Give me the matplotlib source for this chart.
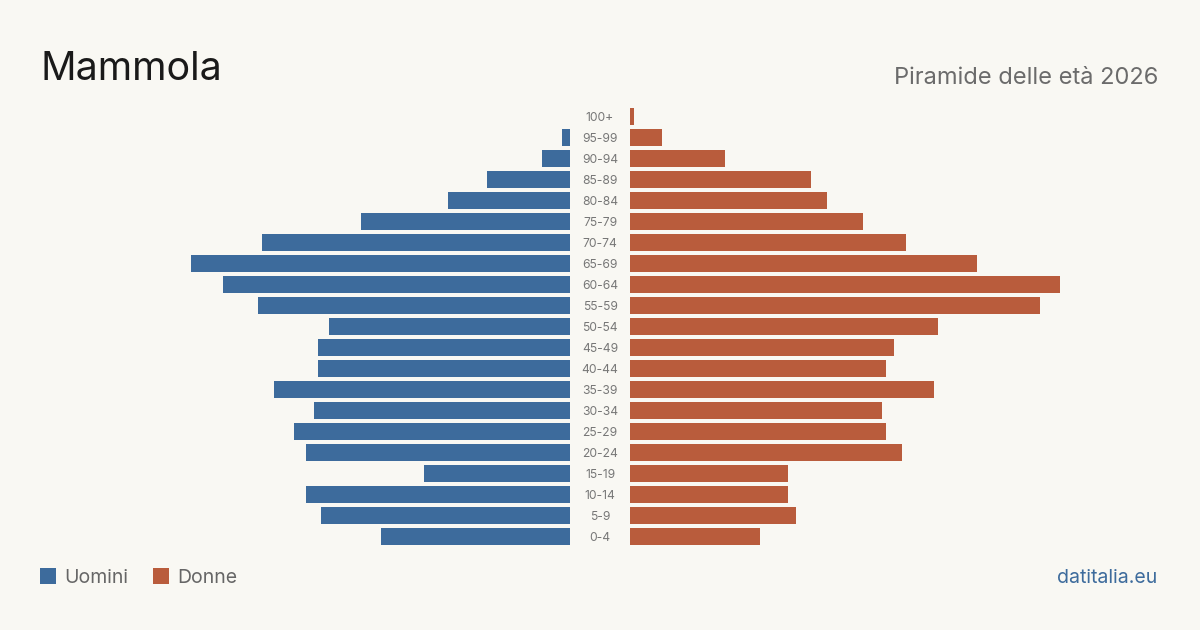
import matplotlib
matplotlib.use('Agg')
import matplotlib.pyplot as plt
from matplotlib.patches import Rectangle

# Data (top row first)
age_groups = ['100+', '95-99', '90-94', '85-89', '80-84', '75-79', '70-74', '65-69', '60-64', '55-59',
              '50-54', '45-49', '40-44', '35-39', '30-34', '25-29', '20-24', '15-19', '10-14', '5-9', '0-4']
men = [0, 2, 7, 20.75, 30.5, 52.25, 77, 94.75, 86.75, 78, 60.25, 63, 63, 74, 64, 69, 66, 36.5, 66, 62.25, 47.25]
women = [1, 8, 23.75, 45.25, 49.25, 58.25, 69, 86.75, 107.5, 102.5, 77, 66, 64, 76, 63, 64, 68, 39.5, 39.5, 41.5, 32.5]

title = 'Mammola'
subtitle = 'Piramide delle età 2026'
source = 'datitalia.eu'
legend_labels = ['Uomini', 'Donne']

# Style
bg = '#f9f8f3'
blue = '#3d6b9c'
orange = '#b95c3c'
plt.rcParams['font.family'] = ['Inter', 'DejaVu Sans']

W, H = 1200, 630
fig = plt.figure(figsize=(W / 100, H / 100), dpi=100, facecolor=bg)


def px_axes(x0, y0, x1, y1):
    # pixel box (top-left origin) -> figure axes
    return fig.add_axes([x0 / W, 1 - y1 / H, (x1 - x0) / W, (y1 - y0) / H])


n = len(age_groups)
pitch = 21
top = 116 - pitch / 2
bottom = top + pitch * n
ypos = list(range(n))

ax_l = px_axes(170, top, 570, bottom)
ax_r = px_axes(630, top, 1130, bottom)
for ax in (ax_l, ax_r):
    ax.set_facecolor('none')
    ax.axis('off')
    ax.set_ylim(n - 0.5, -0.5)

ax_l.barh(ypos, men, height=17 / 21, color=blue)
ax_l.set_xlim(100, 0)
ax_r.barh(ypos, women, height=17 / 21, color=orange)
ax_r.set_xlim(0, 125)

# age labels in the gap
for i, lab in enumerate(age_groups):
    ax_r.annotate(lab, xy=(0, i), xycoords='data', xytext=(-30, -2), textcoords='offset pixels',
                  ha='center', va='center', fontsize=8.7, color='#777777')

fig.text(40 / W, 1 - 80 / H, title, fontsize=28.3, color='#1a1a1a', ha='left', va='baseline')
fig.text(1158 / W, 1 - 84 / H, subtitle, fontsize=17, color='#6b6b6b', ha='right', va='baseline')
fig.text(1157 / W, 1 - 583 / H, source, fontsize=14, color=blue, ha='right', va='baseline')

# legend
for x0, col, lab in [(40, blue, legend_labels[0]), (153, orange, legend_labels[1])]:
    fig.patches.append(Rectangle((x0 / W, 1 - 584 / H), 16 / W, 16 / H, transform=fig.transFigure,
                                 facecolor=col, edgecolor='none'))
    fig.text((x0 + 24) / W, 1 - 583 / H, lab, fontsize=14, color='#666666', ha='left', va='baseline')

fig.savefig('out.png', dpi=100, facecolor=bg)
